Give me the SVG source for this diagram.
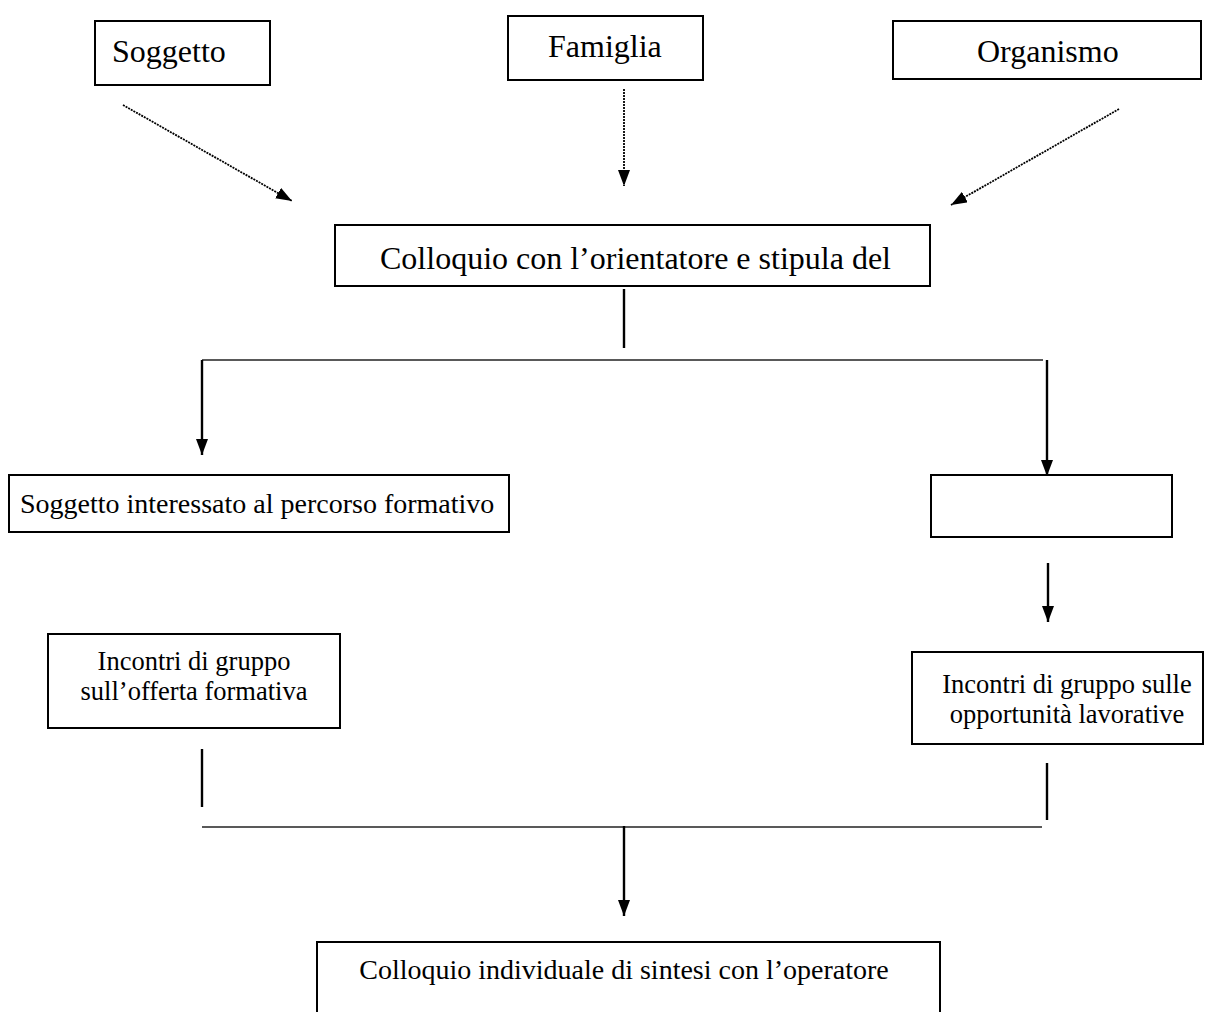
<svg xmlns="http://www.w3.org/2000/svg" width="1208" height="1012" viewBox="0 0 1208 1012">
<style>
.box{fill:#fff;stroke:#000;stroke-width:2}
.t{font-family:"Liberation Serif","Times New Roman",serif;fill:#000}
.big{font-size:32px}
.mid{font-size:28px}
.sm{font-size:26.5px}
.thick{stroke:#000;stroke-width:2.4;fill:none}
.thin{stroke:#222;stroke-width:1.4;fill:none}
.dot{stroke:#000;stroke-width:1.8;stroke-dasharray:2 1;fill:none}
</style>
<defs>
<marker id="ah" viewBox="0 0 16 12" refX="16" refY="6" markerWidth="16" markerHeight="12" markerUnits="userSpaceOnUse" orient="auto">
<path d="M0,0 L16,6 L0,12 z" fill="#000"/>
</marker>
<marker id="ahL" viewBox="0 0 16 12" refX="16" refY="6" markerWidth="16" markerHeight="12" markerUnits="userSpaceOnUse" orient="auto">
<path d="M0,0 L16,6 L0,12 z" fill="#000"/>
</marker>
</defs>
<rect width="1208" height="1012" fill="#fff"/>
<g id="n-soggetto"><rect class="box" x="95" y="21" width="175" height="64"/><text class="t big" x="112" y="62">Soggetto</text></g>
<g id="n-famiglia"><rect class="box" x="508" y="16" width="195" height="64"/><text class="t big" x="548" y="57">Famiglia</text></g>
<g id="n-organismo"><rect class="box" x="893" y="21" width="308" height="58"/><text class="t big" x="977" y="62">Organismo</text></g>
<g id="n-colloquio"><rect class="box" x="335" y="225" width="595" height="61"/><text class="t big" x="380" y="269">Colloquio con l’orientatore e stipula del</text></g>
<g id="n-interessato"><rect class="box" x="9" y="475" width="500" height="57"/><text class="t mid" x="20" y="513">Soggetto interessato al percorso formativo</text></g>
<g id="n-vuoto"><rect class="box" x="931" y="475" width="241" height="62"/></g>
<g id="n-offerta"><rect class="box" x="48" y="634" width="292" height="94"/><text class="t sm" text-anchor="middle" x="194" y="670">Incontri di gruppo</text><text class="t sm" text-anchor="middle" x="194" y="700">sull’offerta formativa</text></g>
<g id="n-opportunita"><rect class="box" x="912" y="652" width="291" height="92"/><text class="t sm" text-anchor="middle" x="1067" y="693">Incontri di gruppo sulle</text><text class="t sm" text-anchor="middle" x="1067" y="723">opportunità lavorative</text></g>
<g id="n-sintesi"><rect class="box" x="317" y="942" width="623" height="90"/><text class="t mid" text-anchor="middle" x="624" y="979">Colloquio individuale di sintesi con l’operatore</text></g>
<g id="connectors">
<line class="dot" x1="123" y1="105" x2="292" y2="201" marker-end="url(#ah)"/>
<line class="dot" x1="624" y1="89" x2="624" y2="186" marker-end="url(#ah)"/>
<line class="dot" x1="1119" y1="109" x2="951" y2="205" marker-end="url(#ah)"/>
<line class="thick" x1="624" y1="289" x2="624" y2="348"/>
<line class="thin" x1="202" y1="360" x2="1043" y2="360"/>
<line class="thick" x1="202" y1="360" x2="202" y2="455" marker-end="url(#ahL)"/>
<line class="thick" x1="1047" y1="360" x2="1047" y2="476" marker-end="url(#ahL)"/>
<line class="thick" x1="1048" y1="563" x2="1048" y2="622" marker-end="url(#ahL)"/>
<line class="thick" x1="202" y1="749" x2="202" y2="807"/>
<line class="thick" x1="1047" y1="763" x2="1047" y2="820"/>
<line class="thin" x1="202" y1="827" x2="1042" y2="827"/>
<line class="thick" x1="624" y1="826" x2="624" y2="916" marker-end="url(#ahL)"/>
</g>
</svg>
